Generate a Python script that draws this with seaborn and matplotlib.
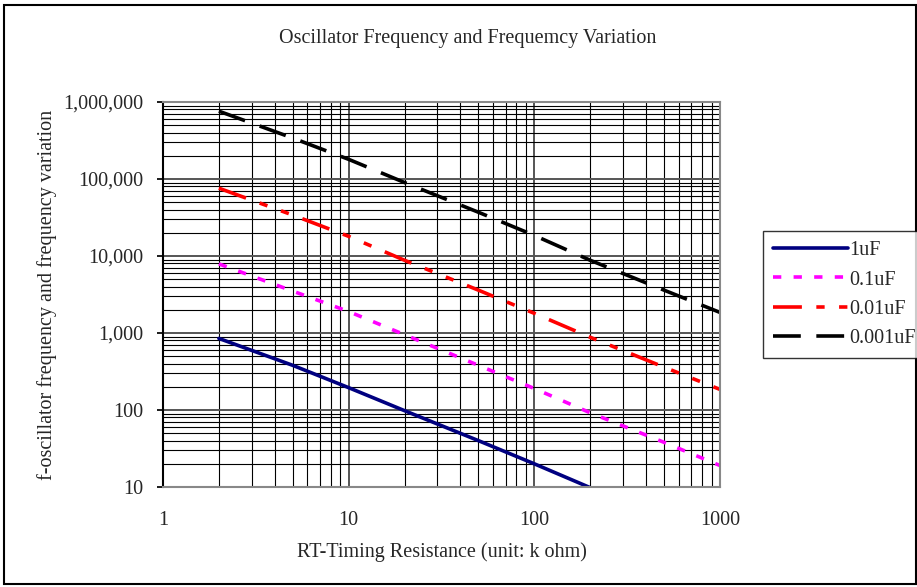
import matplotlib
matplotlib.use("Agg")
import matplotlib.pyplot as plt
import matplotlib.ticker as mticker
from matplotlib.patches import Rectangle
import seaborn as sns
import pandas as pd

# ---- data ----
resistance = [2, 5, 10, 20, 50, 100, 200, 500, 1000]
f_1uF = [850, 380, 195, 98, 40, 20, 9.8]
f_01uF = [7900, 3500, 1900, 950, 380, 190, 92, 38, 19]
f_001uF = [76000, 34000, 18000, 8800, 3600, 1800, 880, 360, 185]
f_0001uF = [760000, 340000, 180000, 90000, 37000, 18500, 8800, 3600, 1850]
series_names = ["1uF", "0.1uF", "0.01uF", "0.001uF"]
series_values = [f_1uF, f_01uF, f_001uF, f_0001uF]
x_ticks = [1, 10, 100, 1000]
x_ticklabels = ["1", "10", "100", "1000"]
y_ticks = [10, 100, 1000, 10000, 100000, 1000000]

rows = []
for name, vals in zip(series_names, series_values):
    for r, v in zip(resistance, vals):
        rows.append({"R": r, "f": v, "C": name})
df = pd.DataFrame(rows)

sns.set_theme(style="white")
plt.rcParams["font.family"] = ["Liberation Serif", "DejaVu Serif"]
FS = 14.5

fig = plt.figure(figsize=(9.17, 5.87), dpi=100)
ax = fig.add_axes([163 / 917, 1 - 487 / 587, (720 - 163) / 917, (487 - 102) / 587])

palette = {"1uF": "#000080", "0.1uF": "#ff00ff", "0.01uF": "#ff0000", "0.001uF": "#000000"}
dashes = {"1uF": "", "0.1uF": (2.3, 3.4), "0.01uF": (8, 4, 2.3, 4, 2.3, 4), "0.001uF": (7.7, 4.3)}

sns.lineplot(data=df, x="R", y="f", hue="C", style="C", hue_order=series_names,
             style_order=series_names, palette=palette, dashes=dashes,
             linewidth=2.6, ax=ax, legend=False, estimator=None, sort=True)

ax.set_xscale("log")
ax.set_yscale("log")
ax.set_xlim(1, 1000)
ax.set_ylim(10, 1000000)
ax.set_xticks(x_ticks)
ax.set_xticklabels(x_ticklabels)
ax.set_yticks(y_ticks)
ax.yaxis.set_major_formatter(mticker.FuncFormatter(lambda v, p: f"{int(round(v)):,}"))
ax.xaxis.set_minor_locator(mticker.LogLocator(base=10, subs=range(2, 10)))
ax.yaxis.set_minor_locator(mticker.LogLocator(base=10, subs=range(2, 10)))
ax.xaxis.set_minor_formatter(mticker.NullFormatter())
ax.yaxis.set_minor_formatter(mticker.NullFormatter())

ax.grid(True, which="major", color="#555555", linewidth=1.4)
ax.grid(True, which="minor", color="black", linewidth=0.8)
ax.set_axisbelow(True)

ax.tick_params(axis="y", which="major", left=True, length=4, color="black", labelsize=FS, pad=10)
ax.tick_params(axis="y", which="minor", left=False)
ax.tick_params(axis="x", which="both", bottom=False, labelsize=FS, pad=11)

for side in ["top", "right", "bottom"]:
    ax.spines[side].set_color("#888888")
    ax.spines[side].set_linewidth(1.5)
ax.spines["left"].set_color("black")
ax.spines["left"].set_linewidth(1.5)

ax.set_xlabel("RT-Timing Resistance (unit: k ohm)", fontsize=FS, labelpad=9)
ax.set_ylabel("f-oscillator frequency and frequency variation", fontsize=FS, labelpad=4.5)
fig.text(468 / 917, 1 - 38 / 587, "Oscillator Frequency and Frequemcy Variation",
         ha="center", va="center", fontsize=FS)

handles = ax.get_lines()[:4]
leg = fig.legend(handles, series_names, loc="upper left",
                 bbox_to_anchor=(763 / 917, 1 - 231 / 587), frameon=True, fancybox=False,
                 edgecolor="black", fontsize=FS, handlelength=3.7, handletextpad=0.1,
                 borderpad=0.5, labelspacing=0.51, borderaxespad=0)
leg.get_frame().set_linewidth(1.0)

fig.patches.append(Rectangle((4 / 917, 1 - 584 / 587), 912 / 917, 579 / 587,
                             transform=fig.transFigure, fill=False, edgecolor="black",
                             linewidth=1.5))

fig.savefig("out.png", dpi=100)
